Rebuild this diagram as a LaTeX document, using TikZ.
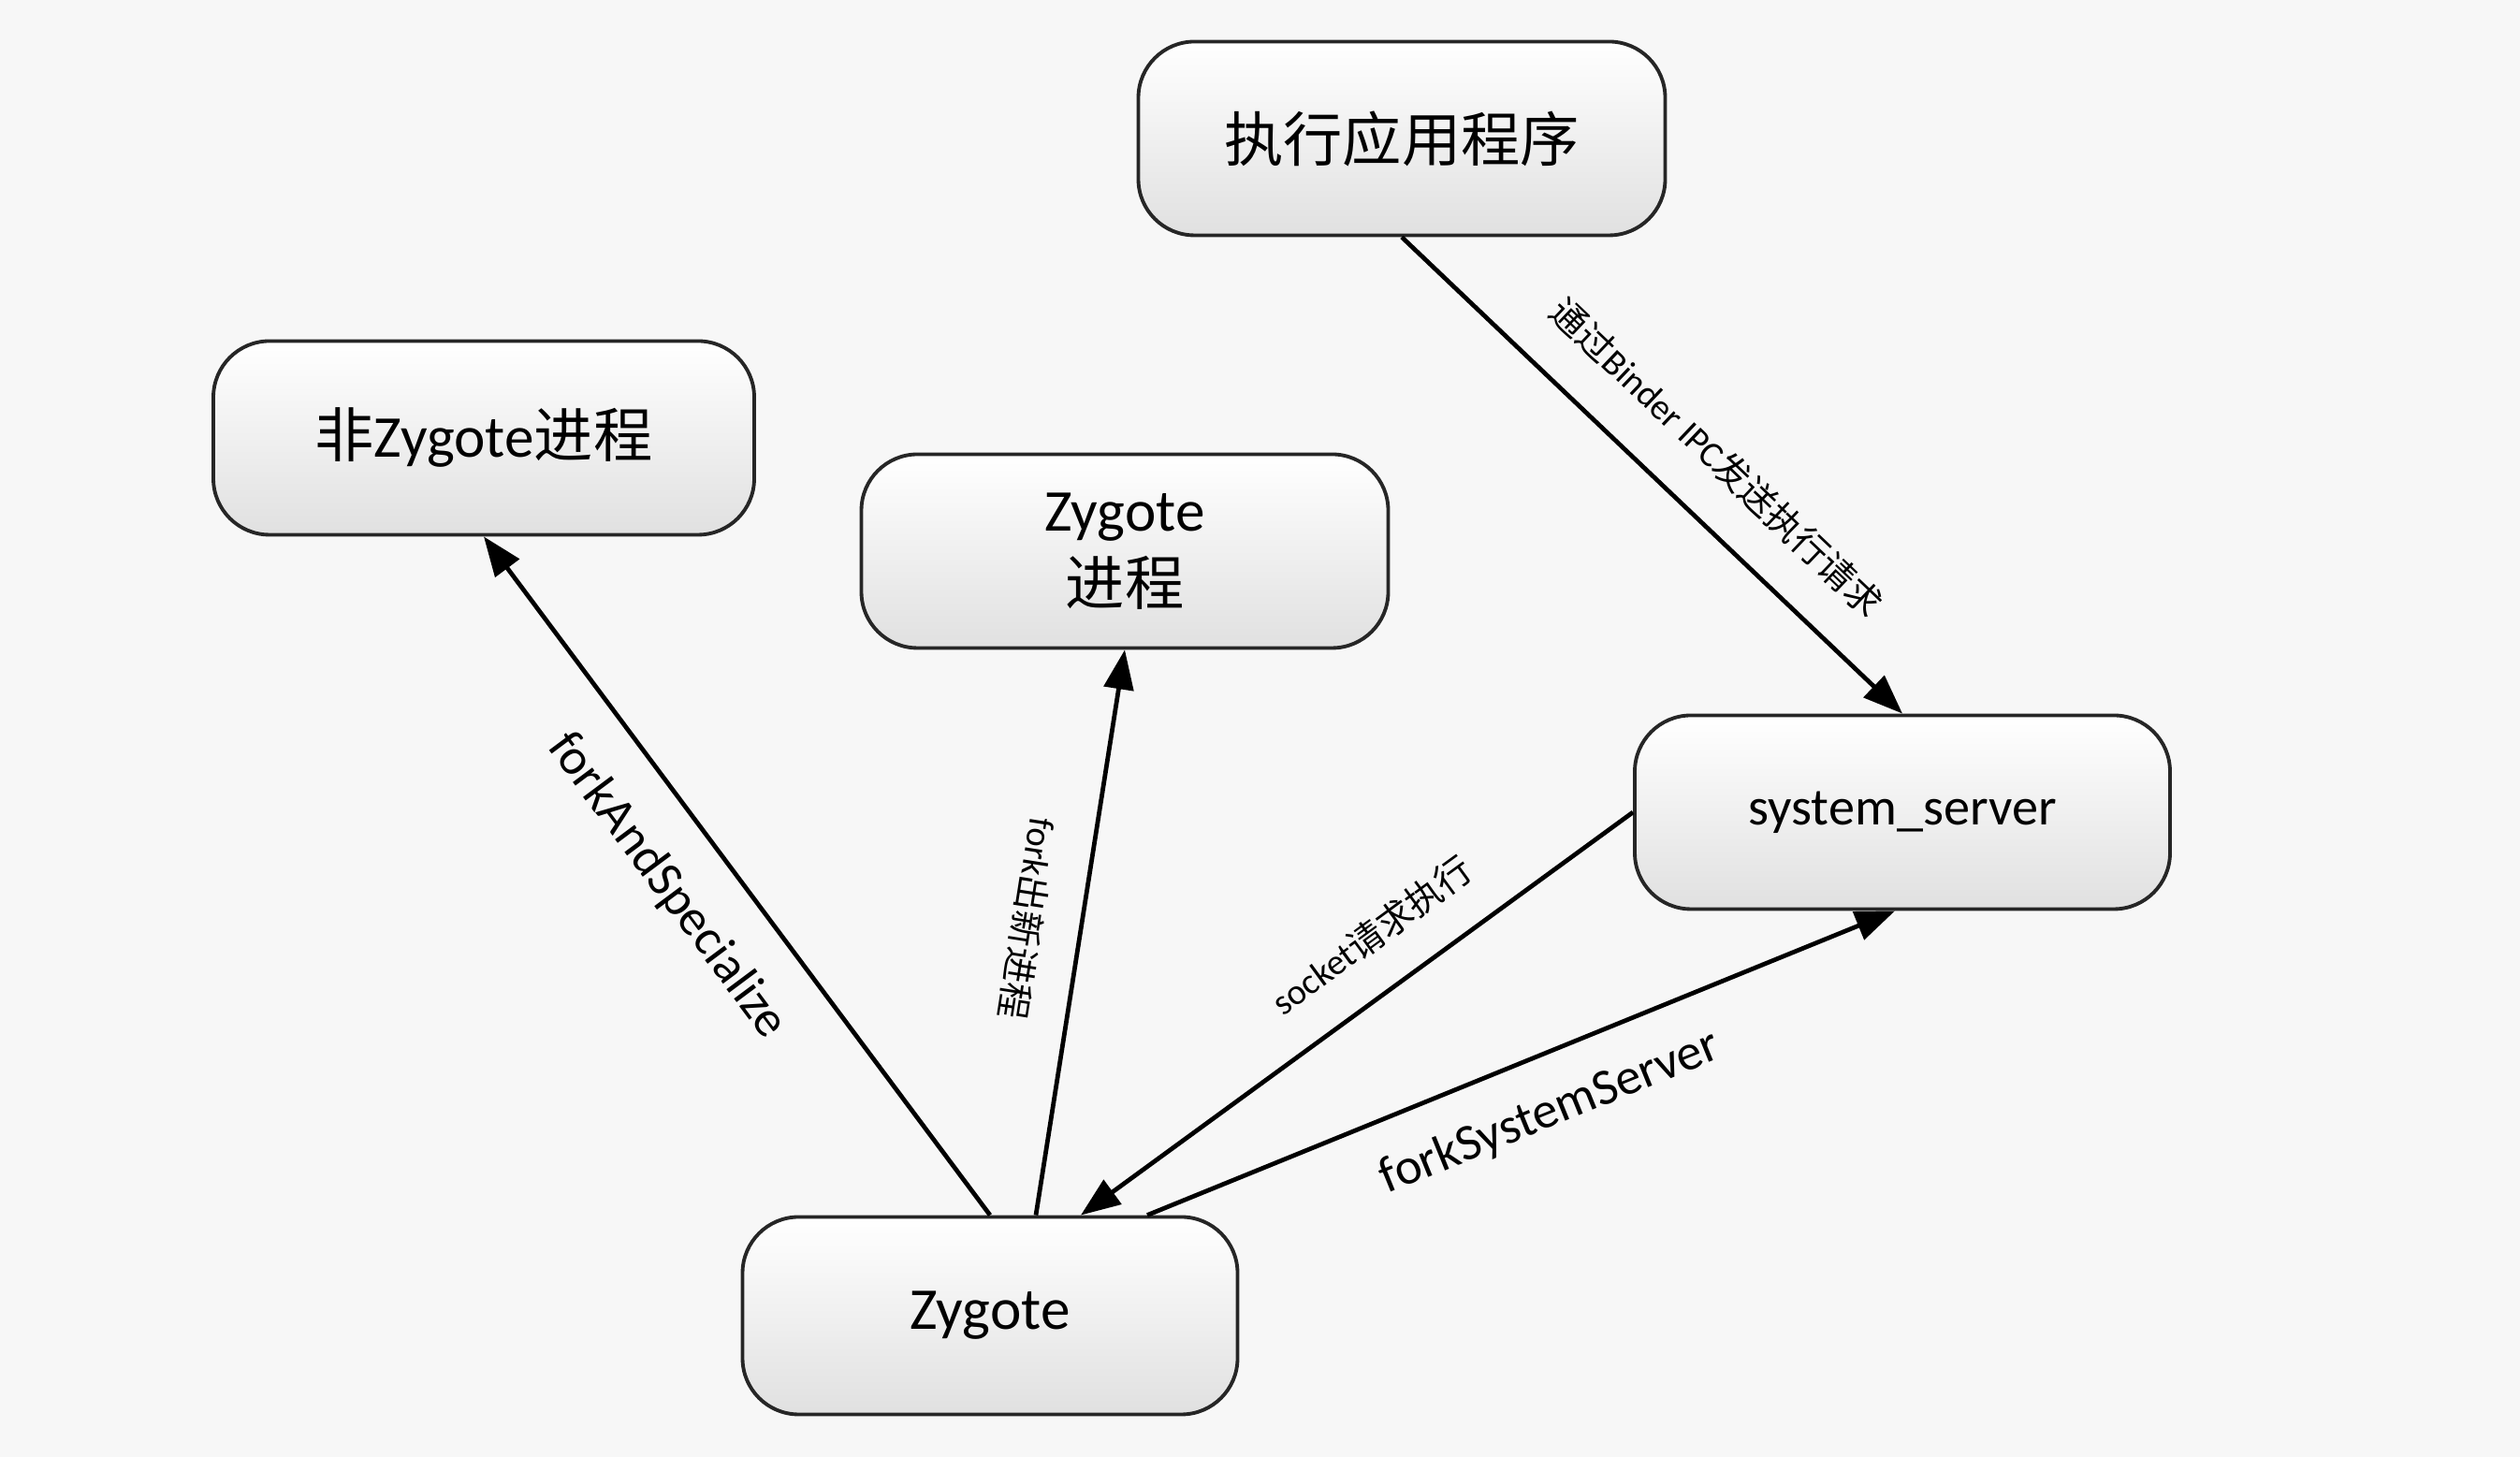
\documentclass[tikz,border=0pt]{standalone}
\usepackage{fontspec}
\setmainfont{Carlito}
\newfontfamily\cjk{Noto Sans CJK SC}
\newcommand{\zh}[1]{{\cjk #1}}
\usetikzlibrary{arrows.meta}

\begin{document}
\begin{tikzpicture}[
  box/.style={draw=black!85, line width=1.1pt, rounded corners=0.6cm, top color=white, bottom color=gray!24,
    minimum height=2.07cm, align=center, font=\fontsize{18}{22.5}\selectfont},
  lbl/.style={font=\fontsize{11}{13}\selectfont, inner sep=1pt, sloped},
  biglbl/.style={font=\fontsize{15.5}{18}\selectfont, inner sep=1pt, sloped},
  arr/.style={line width=1.35pt, >={Triangle[length=12pt, width=9pt]}, ->}]
  % page
  \fill[gray!6] (0,0) rectangle (26.93,15.57);
  % processes
  \node[box, minimum width=5.63cm] (app) at (14.98,14.09) {\zh{执行应用程序}};
  \node[box, minimum width=5.78cm] (nonzyg) at (5.17,10.89) {\zh{非}Zygote\zh{进程}};
  \node[box, minimum width=5.63cm] (zygproc) at (12.02,9.68) {Zygote\\\zh{进程}};
  \node[box, minimum width=5.72cm, font=\fontsize{16}{19}\selectfont] (sysserver) at (20.33,6.89) {system\_server};
  \node[box, minimum width=5.29cm, minimum height=2.11cm] (zygote) at (10.58,1.51) {Zygote};
  % request path
  \draw[arr] (app.south) -- (sysserver.north)
    node[lbl, pos=0.55, above=0.38cm] {\zh{通过}Binder IPC\zh{发送执行请求}};
  \draw[arr] (sysserver.west) -- ([xshift=0.97cm]zygote.north)
    node[lbl, pos=0.415, above=0.35cm] {socket\zh{请求执行}};
  % forks out of Zygote
  \draw[arr] ([xshift=1.68cm]zygote.north) -- ([xshift=-0.08cm]sysserver.south)
    node[biglbl, pos=0.51, below=0.32cm] {forkSystemServer};
  \draw[arr, <-] (zygproc.south) -- ([xshift=0.49cm]zygote.north)
    node[lbl, allow upside down, pos=0.49, below=0.33cm] {fork\zh{出新进程}};
  \draw[arr] (zygote.north) -- (nonzyg.south)
    node[biglbl, pos=0.54, below=0.37cm] {forkAndSpecialize};
\end{tikzpicture}
\end{document}
